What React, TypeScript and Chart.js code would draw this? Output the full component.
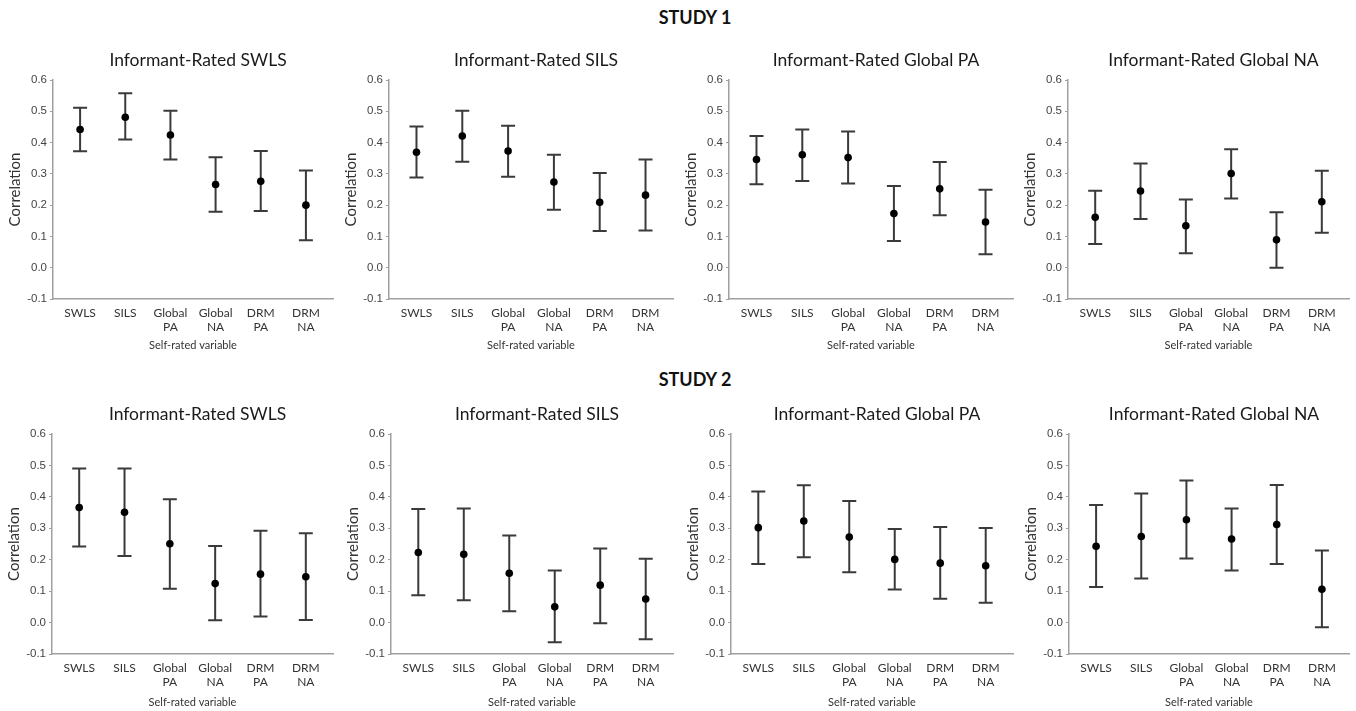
import React, { useEffect, useRef } from "react";
import { Chart, registerables } from "chart.js";

Chart.register(...registerables);

// ---------- data ----------
const categories: string[][] = [["SWLS"], ["SILS"], ["Global", "PA"], ["Global", "NA"], ["DRM", "PA"], ["DRM", "NA"]];
const studyTitles = ["STUDY 1", "STUDY 2"];
const panelTitles = ["Informant-Rated SWLS", "Informant-Rated SILS", "Informant-Rated Global PA", "Informant-Rated Global NA"];
const yAxisTitle = "Correlation";
const xAxisTitle = "Self-rated variable";
const yMin = -0.1;
const yMax = 0.6;
const yStep = 0.1;

// Study 1
const s1SwlsR = [0.442, 0.481, 0.424, 0.266, 0.276, 0.2];
const s1SwlsLo = [0.372, 0.41, 0.346, 0.179, 0.181, 0.088];
const s1SwlsHi = [0.511, 0.558, 0.502, 0.353, 0.373, 0.311];

const s1SilsR = [0.369, 0.421, 0.373, 0.274, 0.209, 0.232];
const s1SilsLo = [0.288, 0.339, 0.291, 0.185, 0.117, 0.119];
const s1SilsHi = [0.451, 0.502, 0.454, 0.361, 0.303, 0.346];

const s1PaR = [0.346, 0.361, 0.352, 0.173, 0.252, 0.146];
const s1PaLo = [0.267, 0.277, 0.269, 0.085, 0.168, 0.043];
const s1PaHi = [0.421, 0.442, 0.435, 0.261, 0.338, 0.249];

const s1NaR = [0.161, 0.245, 0.134, 0.301, 0.089, 0.211];
const s1NaLo = [0.076, 0.156, 0.046, 0.221, 0.0, 0.112];
const s1NaHi = [0.246, 0.333, 0.218, 0.379, 0.177, 0.31];

// Study 2
const s2SwlsR = [0.366, 0.351, 0.251, 0.124, 0.154, 0.146];
const s2SwlsLo = [0.242, 0.212, 0.108, 0.007, 0.019, 0.008];
const s2SwlsHi = [0.49, 0.49, 0.392, 0.244, 0.292, 0.284];

const s2SilsR = [0.223, 0.217, 0.157, 0.05, 0.119, 0.075];
const s2SilsLo = [0.087, 0.071, 0.036, -0.063, -0.002, -0.053];
const s2SilsHi = [0.361, 0.363, 0.277, 0.166, 0.236, 0.203];

const s2PaR = [0.302, 0.323, 0.272, 0.201, 0.189, 0.181];
const s2PaLo = [0.186, 0.208, 0.16, 0.105, 0.076, 0.063];
const s2PaHi = [0.417, 0.437, 0.387, 0.298, 0.304, 0.301];

const s2NaR = [0.243, 0.274, 0.327, 0.266, 0.312, 0.106];
const s2NaLo = [0.113, 0.14, 0.204, 0.166, 0.186, -0.015];
const s2NaHi = [0.374, 0.411, 0.452, 0.363, 0.438, 0.229];

const study1 = [
  [s1SwlsR, s1SwlsLo, s1SwlsHi],
  [s1SilsR, s1SilsLo, s1SilsHi],
  [s1PaR, s1PaLo, s1PaHi],
  [s1NaR, s1NaLo, s1NaHi],
];
const study2 = [
  [s2SwlsR, s2SwlsLo, s2SwlsHi],
  [s2SilsR, s2SilsLo, s2SilsHi],
  [s2PaR, s2PaLo, s2PaHi],
  [s2NaR, s2NaLo, s2NaHi],
];

// ---------- layout ----------
const Y_AXIS_W = 53;
const PAD_R = 5;
const TITLE_SHIFT = 5;
const rows = [
  { top: 38, height: 318, xScaleH: 57, titlePadBottom: 4, axisLefts: [53, 389, 729, 1068], axisRights: [333, 673, 1013, 1349], headingTop: 6 },
  { top: 392, height: 319, xScaleH: 57, titlePadBottom: 2, axisLefts: [52, 391, 731, 1069], axisRights: [333, 673, 1013, 1349], headingTop: 368 },
];

const TITLE_FONT = "Lato, 'Open Sans', sans-serif";
const TICK_FONT = "'Liberation Sans', Arial, sans-serif";
const AXIS_COLOR = "#a0a0a0";

const errorBarPlugin = {
  id: "errorBars",
  afterLayout(chart: any) {
    const tb = chart.titleBlock;
    if (tb) {
      tb.left += TITLE_SHIFT;
      tb.right += TITLE_SHIFT;
    }
  },
  beforeDatasetsDraw(chart: any, _args: any, opts: any) {
    const { ctx } = chart;
    const x = chart.scales.x;
    const y = chart.scales.y;
    const lo: number[] = opts.lo || [];
    const hi: number[] = opts.hi || [];
    ctx.save();
    ctx.strokeStyle = opts.color || "#333";
    ctx.lineWidth = opts.width || 2;
    ctx.lineCap = "butt";
    const cap = opts.cap || 7;
    lo.forEach((l, i) => {
      const px = x.getPixelForValue(i);
      const pl = y.getPixelForValue(l);
      const ph = y.getPixelForValue(hi[i]);
      ctx.beginPath();
      ctx.moveTo(px, pl);
      ctx.lineTo(px, ph);
      ctx.moveTo(px - cap, pl);
      ctx.lineTo(px + cap, pl);
      ctx.moveTo(px - cap, ph);
      ctx.lineTo(px + cap, ph);
      ctx.stroke();
    });
    ctx.restore();
  },
};

function Panel(props: {
  left: number;
  top: number;
  width: number;
  height: number;
  title: string;
  r: number[];
  lo: number[];
  hi: number[];
  xScaleH: number;
  titlePadBottom: number;
}) {
  const ref = useRef<HTMLCanvasElement | null>(null);
  useEffect(() => {
    if (!ref.current) return;
    const chart = new Chart(ref.current, {
      type: "scatter",
      data: {
        datasets: [
          {
            data: props.r.map((v, i) => ({ x: i, y: v })),
            backgroundColor: "#000",
            borderColor: "#000",
            pointRadius: 3.8,
            pointHoverRadius: 3.8,
            borderWidth: 0,
          },
        ],
      },
      options: {
        responsive: false,
        animation: false,
        events: [],
        layout: { padding: { left: 0, right: PAD_R, top: 0, bottom: 0 } },
        plugins: {
          legend: { display: false },
          tooltip: { enabled: false },
          title: {
            display: true,
            text: props.title,
            fullSize: false,
            color: "#1a1a1a",
            font: { family: TITLE_FONT, size: 17.5, weight: "normal" },
            padding: { top: 12, bottom: 9 },
          },
          errorBars: { lo: props.lo, hi: props.hi, color: "#3a3a3a", width: 2, cap: 7 },
        } as any,
        scales: {
          x: {
            type: "linear",
            min: -0.6,
            max: 5.6,
            afterBuildTicks: (scale: any) => {
              scale.ticks = categories.map((_, i) => ({ value: i }));
            },
            afterFit: (scale: any) => {
              scale.height = props.xScaleH;
            },
            grid: { display: false, drawTicks: false, tickLength: 0 },
            border: { display: true, color: AXIS_COLOR, width: 1.5 },
            ticks: {
              autoSkip: false,
              maxRotation: 0,
              padding: 7,
              color: "#333",
              font: { family: TITLE_FONT, size: 12, lineHeight: 1.15 },
              callback: (v: any) => categories[Math.round(Number(v))] ?? "",
            },
            title: {
              display: true,
              text: xAxisTitle,
              color: "#333",
              font: { family: TITLE_FONT, size: 11 },
              padding: { top: 4, bottom: props.titlePadBottom },
            },
          },
          y: {
            type: "linear",
            min: yMin,
            max: yMax,
            afterFit: (scale: any) => {
              scale.width = Y_AXIS_W;
            },
            grid: { drawOnChartArea: false, drawTicks: true, tickLength: 3, color: AXIS_COLOR, lineWidth: 1 },
            border: { display: true, color: AXIS_COLOR, width: 1.5 },
            ticks: {
              stepSize: yStep,
              padding: 3,
              color: "#444",
              font: { family: TICK_FONT, size: 11.5 },
              callback: (v: any) => {
                const n = Number(v);
                return (Math.abs(n) < 1e-9 ? 0 : n).toFixed(1);
              },
            },
            title: {
              display: true,
              text: yAxisTitle,
              color: "#333",
              font: { family: TITLE_FONT, size: 15 },
              padding: { top: 6, bottom: 0 },
            },
          },
        },
      },
      plugins: [errorBarPlugin as any],
    });
    return () => chart.destroy();
  }, []);
  return (
    <canvas
      ref={ref}
      width={props.width}
      height={props.height}
      style={{ position: "absolute", left: props.left, top: props.top, width: props.width, height: props.height }}
    />
  );
}

export default function App() {
  const studies = [study1, study2];
  return (
    <div style={{ position: "fixed", left: 0, top: 0, width: 1356, height: 711, overflow: "hidden", background: "#fff" }}>
      {rows.map((row, ri) => (
        <React.Fragment key={ri}>
          <div
            style={{
              position: "absolute",
              left: 595,
              width: 200,
              top: row.headingTop,
              textAlign: "center",
              fontFamily: TITLE_FONT,
              fontWeight: 700,
              fontSize: 18,
              lineHeight: "22px",
              color: "#111",
            }}
          >
            {studyTitles[ri]}
          </div>
          {studies[ri].map((d, pi) => {
            const left = row.axisLefts[pi] - Y_AXIS_W;
            const width = row.axisRights[pi] - left + PAD_R;
            return (
              <Panel
                key={pi}
                left={left}
                top={row.top}
                width={width}
                height={row.height}
                title={panelTitles[pi]}
                r={d[0]}
                lo={d[1]}
                hi={d[2]}
                xScaleH={row.xScaleH}
                titlePadBottom={row.titlePadBottom}
              />
            );
          })}
        </React.Fragment>
      ))}
    </div>
  );
}
